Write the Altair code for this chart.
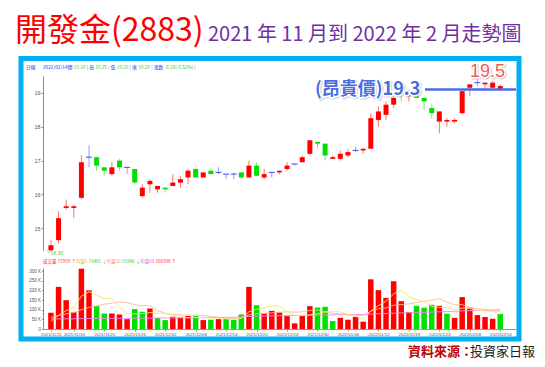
import json
import altair as alt
import pandas as pd

# ---------------- data ----------------
dates = [
    "2021/11/11", "2021/11/12", "2021/11/15", "2021/11/16", "2021/11/17", "2021/11/18",
    "2021/11/19", "2021/11/22", "2021/11/23", "2021/11/24", "2021/11/25", "2021/11/26",
    "2021/11/29", "2021/11/30", "2021/12/01", "2021/12/02", "2021/12/03", "2021/12/06",
    "2021/12/07", "2021/12/08", "2021/12/09", "2021/12/10", "2021/12/13", "2021/12/14",
    "2021/12/15", "2021/12/16", "2021/12/17", "2021/12/20", "2021/12/21", "2021/12/22",
    "2021/12/23", "2021/12/24", "2021/12/27", "2021/12/28", "2021/12/29", "2021/12/30",
    "2022/01/03", "2022/01/04", "2022/01/05", "2022/01/06", "2022/01/07", "2022/01/10",
    "2022/01/11", "2022/01/12", "2022/01/13", "2022/01/14", "2022/01/17", "2022/01/18",
    "2022/01/19", "2022/01/20", "2022/01/21", "2022/01/24", "2022/01/25", "2022/01/26",
    "2022/02/07", "2022/02/08", "2022/02/09", "2022/02/10", "2022/02/11", "2022/02/14",
]
opens = [14.35, 14.65, 15.60, 15.60, 15.90, 17.10, 17.10, 16.80, 16.60, 17.00,
         16.80, 16.75, 15.95, 16.30, 16.15, 16.20, 16.25, 16.35, 16.50, 16.75,
         16.50, 16.70, 16.65, 16.60, 16.60, 16.65, 16.50, 16.85, 16.50, 16.65,
         16.65, 16.75, 16.90, 16.95, 17.20, 17.55, 17.50, 17.05, 17.05, 17.15,
         17.30, 17.30, 17.35, 18.20, 18.35, 18.65, 19.00, 18.90, 19.00, 18.85,
         18.55, 18.15, 18.15, 18.15, 18.40, 19.15, 19.30, 19.25, 19.15, 19.10]
highs = [14.65, 15.50, 15.85, 15.70, 17.15, 17.45, 17.10, 16.80, 16.95, 17.05,
         16.80, 16.75, 16.30, 16.45, 16.25, 16.20, 16.60, 16.55, 16.75, 16.80,
         16.65, 16.80, 16.80, 16.60, 16.65, 16.65, 17.00, 16.95, 16.75, 16.65,
         16.70, 16.95, 16.90, 17.15, 17.60, 17.55, 17.50, 17.15, 17.30, 17.35,
         17.40, 17.35, 18.40, 18.60, 18.75, 18.90, 19.10, 19.10, 19.25, 18.85,
         18.65, 18.45, 18.25, 18.25, 19.05, 19.25, 19.40, 19.30, 19.35, 19.25]
lows = [14.30, 14.55, 15.55, 15.30, 15.85, 16.80, 16.70, 16.55, 16.55, 16.70,
        16.60, 16.30, 15.90, 16.05, 16.05, 16.05, 16.25, 16.20, 16.30, 16.50,
        16.50, 16.60, 16.60, 16.45, 16.45, 16.45, 16.50, 16.55, 16.45, 16.50,
        16.60, 16.70, 16.85, 16.95, 17.15, 17.35, 17.00, 17.05, 17.00, 17.10,
        17.25, 17.20, 17.35, 18.00, 18.20, 18.55, 18.75, 18.75, 18.85, 18.50,
        18.25, 17.80, 18.00, 18.10, 18.35, 18.90, 19.20, 19.05, 19.15, 19.10]
closes = [14.50, 15.30, 15.65, 15.65, 16.95, 17.10, 16.85, 16.70, 16.80, 16.80,
          16.80, 16.35, 16.20, 16.40, 16.25, 16.15, 16.35, 16.45, 16.70, 16.50,
          16.65, 16.60, 16.65, 16.60, 16.60, 16.50, 16.85, 16.55, 16.60, 16.65,
          16.70, 16.85, 16.90, 17.10, 17.60, 17.50, 17.15, 17.10, 17.20, 17.25,
          17.30, 17.35, 18.25, 18.45, 18.65, 18.85, 18.95, 18.95, 18.85, 18.75,
          18.40, 18.45, 18.20, 18.20, 19.05, 19.25, 19.30, 19.30, 19.30, 19.20]
volumes_k = [84, 218, 149, 87, 312, 200, 118, 80, 80, 75,
             51, 103, 89, 106, 57, 46, 63, 58, 67, 67,
             46, 48, 51, 51, 48, 75, 218, 123, 80, 94,
             86, 67, 29, 67, 118, 111, 115, 41, 58, 48,
             63, 38, 257, 201, 161, 247, 144, 87, 120, 110,
             125, 120, 79, 58, 165, 110, 72, 62, 53, 78]
volume_dir = ["up", "up", "up", "up", "up", "up", "down", "down", "up", "up",
              "up", "down", "down", "up", "down", "down", "up", "up", "up", "down",
              "up", "down", "up", "down", "down", "down", "up", "down", "up", "up",
              "up", "up", "up", "up", "up", "down", "down", "down", "up", "up",
              "up", "up", "up", "up", "up", "up", "up", "up", "down", "down",
              "down", "up", "down", "up", "up", "up", "up", "up", "up", "down"]
ma5_k = [40, 70, 95, 110, 170, 193, 173, 159, 158, 111,
         81, 78, 80, 85, 81, 80, 72, 66, 58, 60,
         60, 57, 56, 53, 49, 55, 89, 103, 109, 118,
         120, 90, 71, 69, 73, 78, 88, 90, 89, 75,
         65, 50, 93, 121, 144, 181, 202, 168, 152, 142,
         117, 112, 111, 98, 109, 106, 97, 93, 92, 75]
ma10_k = [60, 70, 78, 85, 100, 112, 120, 128, 134, 140,
          137, 126, 120, 121, 96, 81, 75, 73, 72, 71,
          70, 65, 61, 55, 55, 57, 73, 79, 81, 83,
          87, 89, 87, 89, 96, 99, 89, 81, 79, 74,
          72, 69, 92, 105, 109, 123, 126, 130, 137, 143,
          149, 157, 139, 125, 126, 112, 105, 102, 95, 92]
ma60_k = [52, 52, 53, 53, 54, 54, 55, 55, 55, 55,
          55, 56, 56, 56, 57, 57, 57, 58, 58, 58,
          59, 59, 60, 60, 61, 63, 65, 66, 67, 68,
          69, 69, 70, 70, 71, 72, 73, 73, 74, 74,
          75, 75, 77, 79, 80, 82, 83, 84, 85, 86,
          88, 89, 90, 91, 94, 95, 96, 97, 98, 100]

tick_idx = [0, 3, 7, 11, 15, 19, 23, 27, 31, 35, 39, 43, 47, 51, 55, 59]
price_ticks = [15, 16, 17, 18, 19]
vol_ticks = [0, 50, 100, 150, 200, 250, 300]

# ---------------- layout ----------------
LEFT = 43
W, H = 502, 329
CJK = "Noto Sans CJK TC"
SMALL = "Liberation Sans"

df = pd.DataFrame({
    "i": list(range(len(dates))), "date": dates,
    "o": opens, "h": highs, "l": lows, "c": closes,
    "v": volumes_k, "vd": volume_dir,
    "ma5": ma5_k, "ma10": ma10_k, "ma60": ma60_k,
})
df["dir"] = ["up" if c > o else ("down" if c < o else "flat") for o, c in zip(opens, closes)]
df["lo"] = [min(o, c) for o, c in zip(opens, closes)]
df["hi"] = [max(o, c) for o, c in zip(opens, closes)]

one = pd.DataFrame({"k": [0]})

xscale = alt.Scale(domain=[-0.386, 60.41], range=[0, 473], nice=False, zero=False)
X = alt.X("i:Q", scale=xscale, axis=alt.Axis(
    values=tick_idx, labelExpr=json.dumps(dates) + "[datum.value]", title=None,
    grid=False, labelFontSize=4.3, labelColor="#555", labelFont=SMALL,
    tickSize=2, tickColor="#999", domainColor="#999", labelPadding=1,
    labelFlush=False, labelOverlap=False, labelAngle=0))

pscale = alt.Scale(domain=[14.35, 19.5], range=[250.3, 75.9], nice=False, zero=False)
vscale = alt.Scale(domain=[0, 315], range=[329, 268.1], nice=False, zero=False)
cscale = alt.Scale(domain=["up", "down", "flat"], range=["#ff0000", "#00e000", "#4444ff"])

price_axis = alt.Axis(values=price_ticks, title=None, grid=False, orient="left",
                      labelFontSize=5.5, labelFont=SMALL, labelColor="#555",
                      tickSize=2, tickColor="#888", domainColor="#888", labelPadding=1)
vol_axis = alt.Axis(values=vol_ticks, title=None, grid=False, orient="left",
                    labelExpr="datum.value == 0 ? '0' : datum.value + ' K'",
                    labelFontSize=4.5, labelFont=SMALL, labelColor="#555",
                    tickSize=1.5, tickColor="#888", domainColor="#888", labelPadding=1)


def txt(s, x, y, size, color, weight="normal", font=CJK, align="left",
        baseline="alphabetic", **kw):
    return alt.Chart(one).mark_text(
        text=s, align=align, baseline=baseline, fontSize=size, color=color,
        fontWeight=weight, font=font, **kw
    ).encode(x=alt.value(x - LEFT), y=alt.value(y))


layers = []

# frame
layers.append(alt.Chart(one).mark_rect(filled=False, stroke="#00b0f0", strokeWidth=5).encode(
    x=alt.value(21 - LEFT), x2=alt.value(519 - LEFT), y=alt.value(58.5), y2=alt.value(339)))

# titles
layers.append(txt("開發金(2883)", 15, 41, 32, "#ff0000"))
layers.append(txt("2021 年 11 月到 2022 年 2 月走勢圖", 208, 41, 20, "#7030a0"))

# price header
BLUE, GREEN, SEP = "#1a1aff", "#2ecc2e", "#7777cc"
hdr = [("日線", 26, BLUE), ("2022/02/14", 43, BLUE), ("開", 67.7, BLUE), ("19.10", 73.7, GREEN),
       ("|", 86.7, SEP), ("高", 89.2, BLUE), ("19.25", 95.2, GREEN), ("|", 108.2, SEP),
       ("低", 110.7, BLUE), ("19.10", 116.7, GREEN), ("|", 129.7, SEP), ("收", 132.2, BLUE),
       ("19.20", 138.2, GREEN), ("|", 151.2, SEP), ("漲跌", 153.7, BLUE),
       ("-0.10(-0.52%)", 164.4, GREEN), ("|", 194.3, SEP)]
for s, x, col in hdr:
    layers.append(txt(s, x, 67.6, 4.7, col, baseline="middle"))

# candles
layers.append(alt.Chart(df).mark_rule(strokeWidth=1, opacity=0.55).encode(
    x=X, y=alt.Y("l:Q", scale=pscale, axis=None), y2="h:Q",
    color=alt.Color("dir:N", scale=cscale, legend=None)))
layers.append(alt.Chart(df).mark_bar(size=5).encode(
    x=X, y=alt.Y("lo:Q", scale=pscale, axis=price_axis), y2="hi:Q",
    color=alt.Color("dir:N", scale=cscale, legend=None)))
layers.append(alt.Chart(df).transform_filter("datum.dir == 'flat'").mark_rule(
    xOffset=-3, x2Offset=3, strokeWidth=1).encode(
    x=X, x2="i:Q", y=alt.Y("c:Q", scale=pscale, axis=None),
    color=alt.Color("dir:N", scale=cscale, legend=None)))

# volume
layers.append(alt.Chart(df).mark_bar(size=5.5).encode(
    x=X, y=alt.Y("v:Q", scale=vscale, axis=vol_axis),
    color=alt.Color("vd:N", scale=cscale, legend=None)))
for f, col in [("ma60", "#f08cf0"), ("ma10", "#ffb89a"), ("ma5", "#f5e66a")]:
    layers.append(alt.Chart(df).mark_line(strokeWidth=0.9, color=col).encode(
        x=X, y=alt.Y(f + ":Q", scale=vscale, axis=None)))

# volume header
RED, GOLD, SALMON, VIOLET = "#ff2a2a", "#e0b800", "#ff8c69", "#e860e8"
vhdr = [("成交量", 43, RED), ("77959", 57.7, RED), ("↑", 71.4, RED),
        ("均量5", 75.9, GOLD), ("73481", 88.6, GREEN), ("↓", 102.3, GREEN),
        ("均量10", 106.8, SALMON), ("91840", 122, GREEN), ("↓", 135.7, GREEN),
        ("均量60", 140.2, VIOLET), ("100398", 155.4, RED), ("↑", 171.6, RED)]
for s, x, col in vhdr:
    layers.append(txt(s, x, 261.7, 4.5, col, baseline="middle"))

# low marker
layers.append(alt.Chart(one).mark_rule(color="#2ecc2e", strokeWidth=0.6).encode(
    x=alt.value(46.5 - LEFT), x2=alt.value(50 - LEFT), y=alt.value(250.5), y2=alt.value(253)))
layers.append(txt("14.30", 50.5, 254.8, 5, "#2ecc2e"))

# overlay annotations
OV_BLUE = "#4a6ee0"
layers.append(alt.Chart(one).mark_rule(color=OV_BLUE, strokeWidth=2.5).encode(
    x=alt.value(425 - LEFT), x2=alt.value(516 - LEFT), y=alt.value(89.5)))
for s, x, y, size, col, w, font in [
        ("(昂貴價)19.3", 315, 89.5, 18, OV_BLUE, "bold", CJK),
        ("19.5", 470, 72, 18, "#f05a5a", "normal", "Liberation Sans Narrow, Liberation Sans")]:
    layers.append(txt(s, x, y, size, "#888888", w, font, baseline="middle", dx=1, dy=1.2,
                      stroke="#999999", strokeWidth=3, opacity=0.45, strokeJoin="round"))
    layers.append(txt(s, x, y, size, "#ffffff", w, font, baseline="middle",
                      stroke="#ffffff", strokeWidth=3, strokeJoin="round"))
    layers.append(txt(s, x, y, size, col, w, font, baseline="middle"))

# source
layers.append(txt("資料來源：", 408, 356, 13, "#c00000", "bold"))
layers.append(txt("投資家日報", 470, 356, 13, "#222222"))

chart = alt.layer(*layers).resolve_scale(y="independent").properties(
    width=W, height=H,
    padding={"left": LEFT, "top": 0, "right": 0, "bottom": 367 - H},
    autosize=alt.AutoSizeParams(type="none"),
    background="white",
).configure_view(stroke=None)

chart.save("out.html", embed_options={"renderer": "svg", "actions": False})
